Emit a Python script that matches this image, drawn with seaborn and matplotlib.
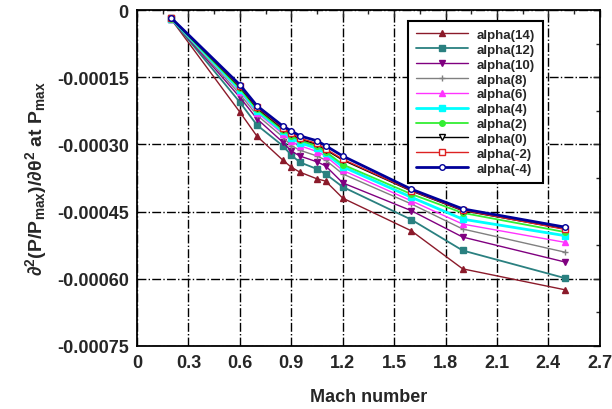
import matplotlib
matplotlib.use("Agg")
import matplotlib.pyplot as plt
from matplotlib.ticker import MultipleLocator, FixedLocator
import seaborn as sns
import pandas as pd

# Mach numbers sampled
mach = [0.2, 0.6, 0.7, 0.85, 0.9, 0.95, 1.05, 1.1, 1.2, 1.6, 1.9, 2.5]

alpha_14 = [-0.000021, -0.000228, -0.000282, -0.000335, -0.000351, -0.000362, -0.000377, -0.000382, -0.000420, -0.000493, -0.000578, -0.000625]
alpha_12 = [-0.000020, -0.000206, -0.000257, -0.000303, -0.000324, -0.000340, -0.000355, -0.000366, -0.000395, -0.000468, -0.000537, -0.000599]
alpha_10 = [-0.000020, -0.000195, -0.000243, -0.000295, -0.000315, -0.000326, -0.000339, -0.000348, -0.000386, -0.000448, -0.000507, -0.000563]
alpha_8 = [-0.000020, -0.000188, -0.000235, -0.000283, -0.000303, -0.000313, -0.000326, -0.000335, -0.000366, -0.000433, -0.000489, -0.000541]
alpha_6 = [-0.000019, -0.000182, -0.000229, -0.000276, -0.000293, -0.000303, -0.000316, -0.000326, -0.000358, -0.000426, -0.000478, -0.000519]
alpha_4 = [-0.000019, -0.000178, -0.000225, -0.000271, -0.000286, -0.000296, -0.000309, -0.000320, -0.000350, -0.000418, -0.000467, -0.000504]
alpha_2 = [-0.000019, -0.000175, -0.000222, -0.000268, -0.000281, -0.000291, -0.000304, -0.000316, -0.000345, -0.000411, -0.000453, -0.000496]
alpha_0 = [-0.000018, -0.000172, -0.000219, -0.000265, -0.000277, -0.000288, -0.000300, -0.000312, -0.000335, -0.000404, -0.000448, -0.000489]
alpha_m2 = [-0.000018, -0.000170, -0.000217, -0.000263, -0.000275, -0.000286, -0.000298, -0.000310, -0.000333, -0.000403, -0.000447, -0.000490]
alpha_m4 = [-0.000018, -0.000167, -0.000214, -0.000259, -0.000270, -0.000281, -0.000292, -0.000303, -0.000326, -0.000400, -0.000444, -0.000485]

labels = ["alpha(14)", "alpha(12)", "alpha(10)", "alpha(8)", "alpha(6)",
          "alpha(4)", "alpha(2)", "alpha(0)", "alpha(-2)", "alpha(-4)"]
series = [alpha_14, alpha_12, alpha_10, alpha_8, alpha_6,
          alpha_4, alpha_2, alpha_0, alpha_m2, alpha_m4]

# (color, marker, filled, linewidth, markersize)
styles = [
    ("#8b1a2a", "^", True, 1.0, 4),
    ("#2a8080", "s", True, 1.3, 4),
    ("#800080", "v", True, 1.0, 4),
    ("#808080", "+", True, 1.0, 5),
    ("#ff33ff", "^", True, 1.0, 4),
    ("#00ffff", "s", True, 2.0, 5),
    ("#33ee33", "o", True, 1.3, 4),
    ("#000000", "v", False, 1.0, 4),
    ("#dd2222", "s", False, 1.0, 4),
    ("#000099", "o", False, 2.0, 4),
]

df = pd.concat([pd.DataFrame({"Mach": mach, "value": s, "case": lab})
                for lab, s in zip(labels, series)])

sns.set_style("white")
plt.rcParams["font.family"] = ["Liberation Sans", "DejaVu Sans"]
plt.rcParams["font.weight"] = "bold"
plt.rcParams["mathtext.fontset"] = "custom"
plt.rcParams["mathtext.rm"] = "Liberation Sans:bold"
plt.rcParams["mathtext.it"] = "Liberation Sans:bold"
plt.rcParams["mathtext.bf"] = "Liberation Sans:bold"
plt.rcParams["mathtext.default"] = "regular"

fig = plt.figure(figsize=(6.12, 4.10), dpi=100)
ax = fig.add_axes([0.224, 0.154, 0.756, 0.819])

for lab, (col, mk, filled, lw, ms) in zip(labels, styles):
    sub = df[df["case"] == lab]
    sns.lineplot(data=sub, x="Mach", y="value", ax=ax, color=col, lw=lw,
                 marker=mk, markersize=ms, markeredgecolor=col,
                 markerfacecolor=col if filled else "white",
                 markeredgewidth=1.0, label=lab, sort=False, errorbar=None)

ax.set_xlim(0, 2.7)
ax.set_ylim(-0.00075, 0)
ax.xaxis.set_major_locator(FixedLocator([0, 0.3, 0.6, 0.9, 1.2, 1.5, 1.8, 2.1, 2.4, 2.7]))
ax.set_xticklabels(["0", "0.3", "0.6", "0.9", "1.2", "1.5", "1.8", "2.1", "2.4", "2.7"])
ax.xaxis.set_minor_locator(MultipleLocator(0.15))
yt = [0, -0.00015, -0.00030, -0.00045, -0.00060, -0.00075]
ax.yaxis.set_major_locator(FixedLocator(yt))
ax.set_yticklabels(["0", "-0.00015", "-0.00030", "-0.00045", "-0.00060", "-0.00075"])
ax.yaxis.set_minor_locator(MultipleLocator(0.000075))
ax.tick_params(which="both", direction="in", top=True, right=True, labelsize=13)
ax.tick_params(which="major", length=5, width=1, pad=6)
ax.tick_params(which="minor", length=3, width=1)
for sp in ax.spines.values():
    sp.set_color("black")
    sp.set_linewidth(1.3)

ax.grid(True, which="major", color="black", linestyle="-.", linewidth=1.0)

ax.set_xlabel("Mach number", fontsize=13, fontweight="bold", labelpad=12)
ax.set_ylabel(r"$\partial^2(P/P_{max})/\partial\theta^2$ at $P_{max}$",
              fontsize=14, fontweight="bold", labelpad=6)

leg = ax.legend(loc="upper left", bbox_to_anchor=(0.585, 0.968), fontsize=9.5,
                handlelength=4.0, handletextpad=0.6, labelspacing=0.2,
                borderpad=0.6, borderaxespad=0,
                fancybox=False, framealpha=1, edgecolor="black")
leg.get_frame().set_linewidth(1.5)

fig.savefig("out.png", dpi=100)
